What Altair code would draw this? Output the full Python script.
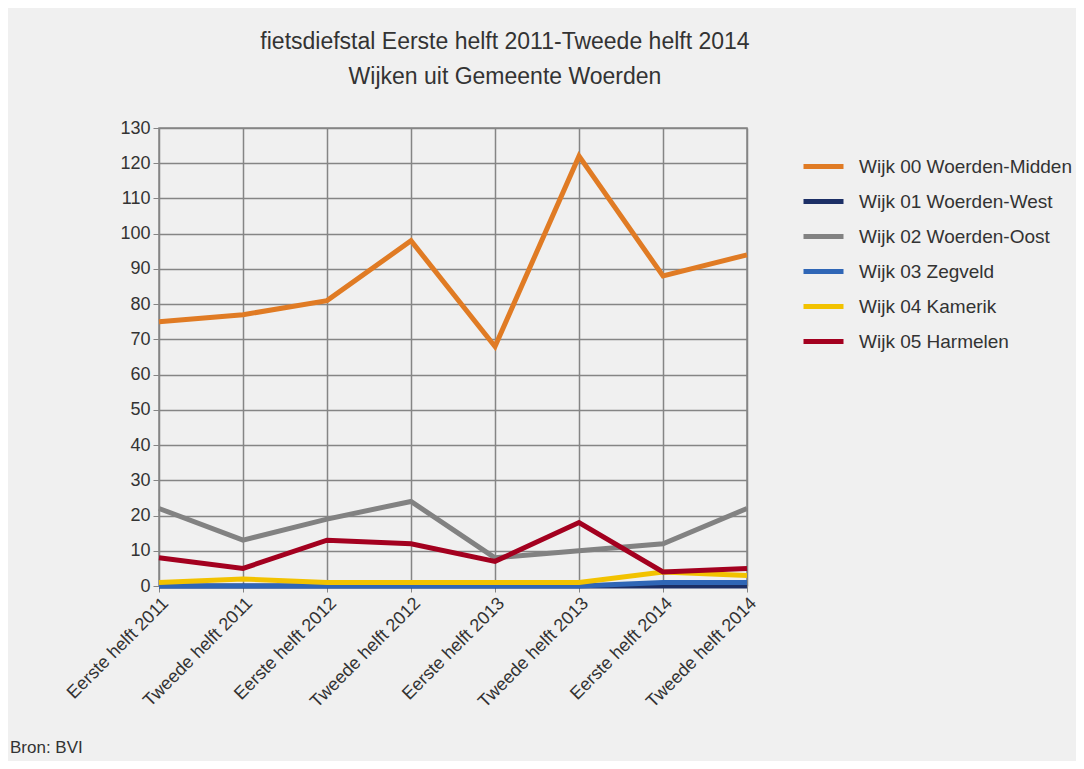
import altair as alt
import pandas as pd

periods = ["Eerste helft 2011", "Tweede helft 2011", "Eerste helft 2012", "Tweede helft 2012",
           "Eerste helft 2013", "Tweede helft 2013", "Eerste helft 2014", "Tweede helft 2014"]

series_names = ["Wijk 00 Woerden-Midden", "Wijk 01 Woerden-West", "Wijk 02 Woerden-Oost",
                "Wijk 03 Zegveld", "Wijk 04 Kamerik", "Wijk 05 Harmelen"]

midden = [75, 77, 81, 98, 68, 122, 88, 94]
west = [0, 0, 0, 0, 0, 0, 0, 0]
oost = [22, 13, 19, 24, 8, 10, 12, 22]
zegveld = [0, 0, 0, 0, 0, 0, 1, 1]
kamerik = [1, 2, 1, 1, 1, 1, 4, 3]
harmelen = [8, 5, 13, 12, 7, 18, 4, 5]

colors = ["#e07b24", "#1c2f66", "#828282", "#2f66b6", "#f2c200", "#a3001f"]

rows = []
for name, vals in zip(series_names, [midden, west, oost, zegveld, kamerik, harmelen]):
    for i, (p, v) in enumerate(zip(periods, vals)):
        rows.append({"wijk": name, "periode": p, "waarde": v, "idx": i})
df = pd.DataFrame(rows)

FONT = "Liberation Sans"

lines = alt.Chart(df).mark_line(strokeWidth=5, strokeJoin="miter").encode(
    x=alt.X("periode:O", sort=periods,
            scale=alt.Scale(type="point", padding=0),
            axis=alt.Axis(title=None, labelAngle=-45, labelAlign="right", labelBaseline="top",
                          grid=True, gridColor="#858585", gridWidth=1.5,
                          domain=False, tickColor="#858585", tickSize=6,
                          labelFontSize=18, labelColor="#333333", labelPadding=2)),
    y=alt.Y("waarde:Q", scale=alt.Scale(domain=[0, 130], nice=False),
            axis=alt.Axis(title=None, values=list(range(0, 131, 10)),
                          grid=True, gridColor="#858585", gridWidth=1.5,
                          domain=False, tickColor="#858585", tickSize=6,
                          labelFontSize=18, labelColor="#333333", labelPadding=3)),
    color=alt.Color("wijk:N", sort=series_names,
                    scale=alt.Scale(domain=series_names, range=colors),
                    legend=alt.Legend(title=None, orient="none", legendX=642, legendY=16,
                                      symbolType="stroke", symbolSize=1600, symbolStrokeWidth=5,
                                      labelFontSize=19, labelColor="#333333", labelOffset=13,
                                      rowPadding=2, padding=0, labelLimit=400)),
    order=alt.Order("idx:Q"),
)

source = alt.Chart(pd.DataFrame({"t": ["Bron: BVI"]})).mark_text(
    align="left", baseline="middle", fontSize=17, color="#333333", font=FONT
).encode(x=alt.value(-149), y=alt.value(620), text="t:N")

chart = alt.layer(lines, source).properties(
    width=588, height=458,
    title=alt.TitleParams(["fietsdiefstal Eerste helft 2011-Tweede helft 2014",
                           "Wijken uit Gemeente Woerden"],
                          fontSize=23, font=FONT, fontWeight="normal", color="#333333",
                          anchor="middle", dx=52, offset=30, lineHeight=35),
    autosize=alt.AutoSizeParams(type="none"),
    padding={"left": 151, "top": 120, "right": 329, "bottom": 175},
    background="#f0f0f0",
).configure(font=FONT).configure_view(stroke="#858585", strokeWidth=1.5)

chart.save("out.html", embed_options={"renderer": "svg", "actions": False})
